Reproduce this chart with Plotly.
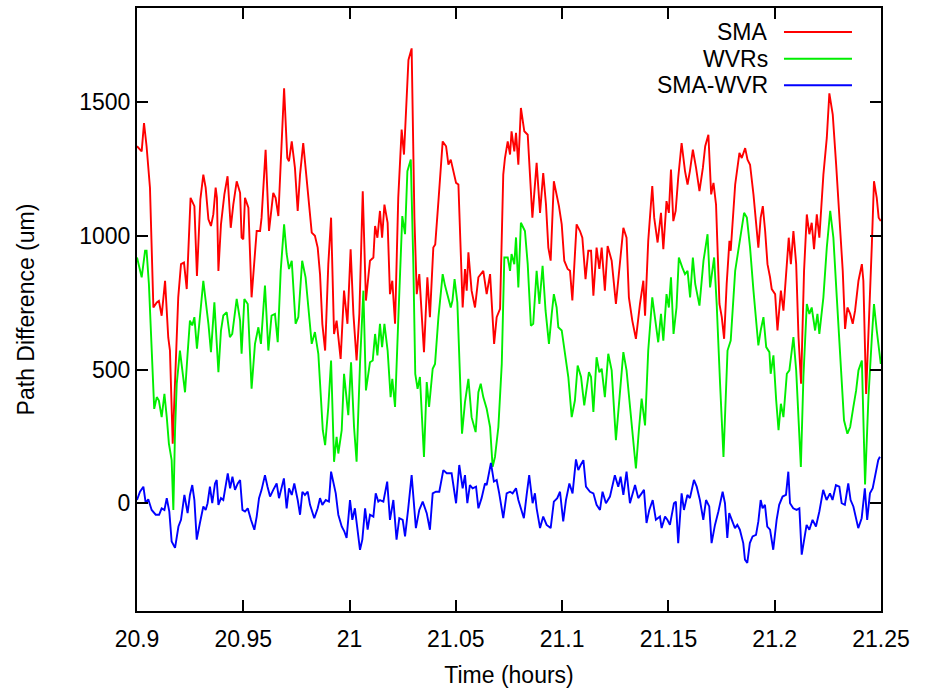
import plotly.graph_objects as go

# ---- data ----
sma_t = [20.9000, 20.9022, 20.9033, 20.9045, 20.9061, 20.9077, 20.9093, 20.9103, 20.9116, 20.9132,
         20.9147, 20.9155, 20.9168, 20.9182, 20.9194, 20.9207, 20.9221, 20.9234, 20.9252, 20.9270,
         20.9282, 20.9298, 20.9312, 20.9323, 20.9336, 20.9348, 20.9359, 20.9370, 20.9376, 20.9383,
         20.9395, 20.9411, 20.9426, 20.9441, 20.9453, 20.9469, 20.9485, 20.9492, 20.9500, 20.9508,
         20.9524, 20.9539, 20.9550, 20.9563, 20.9579, 20.9586, 20.9605, 20.9621, 20.9641, 20.9652,
         20.9665, 20.9676, 20.9692, 20.9707, 20.9715, 20.9728, 20.9743, 20.9756, 20.9767, 20.9782,
         20.9798, 20.9809, 20.9822, 20.9837, 20.9850, 20.9861, 20.9872,
         20.9885, 20.9900, 20.9913, 20.9927, 20.9939, 20.9958, 20.9974, 20.9990, 21.0005, 21.0018,
         21.0033, 21.0046, 21.0062, 21.0077, 21.0096, 21.0112, 21.0120, 21.0131, 21.0143, 21.0153,
         21.0164, 21.0179, 21.0190, 21.0201, 21.0214, 21.0229, 21.0245, 21.0256, 21.0277, 21.0292,
         21.0305, 21.0316, 21.0328, 21.0350, 21.0366, 21.0378, 21.0394, 21.0403, 21.0418, 21.0438,
         21.0454, 21.0465, 21.0476, 21.0488, 21.0501, 21.0512, 21.0520, 21.0532, 21.0543, 21.0551,
         21.0559, 21.0574, 21.0590, 21.0606, 21.0629, 21.0645, 21.0661, 21.0680, 21.0692, 21.0708,
         21.0723,
         21.0731, 21.0744, 21.0755, 21.0762, 21.0775, 21.0783, 21.0794, 21.0806, 21.0822, 21.0838,
         21.0849, 21.0860, 21.0880, 21.0896, 21.0911, 21.0924, 21.0935, 21.0946, 21.0961, 21.0974,
         21.0985, 21.0998, 21.1010, 21.1026, 21.1037, 21.1048, 21.1068, 21.1084, 21.1095, 21.1110,
         21.1123, 21.1136, 21.1147, 21.1162, 21.1175, 21.1186, 21.1201, 21.1214, 21.1233, 21.1253,
         21.1272, 21.1288, 21.1303, 21.1314, 21.1330, 21.1347, 21.1366, 21.1382, 21.1390, 21.1405,
         21.1424, 21.1433, 21.1449, 21.1465, 21.1476, 21.1491, 21.1502, 21.1512, 21.1523, 21.1534,
         21.1546, 21.1562, 21.1578, 21.1590, 21.1601,
         21.1615, 21.1630, 21.1646, 21.1662, 21.1673, 21.1688, 21.1701, 21.1712, 21.1724, 21.1740,
         21.1751, 21.1762, 21.1774, 21.1787, 21.1793, 21.1814, 21.1834, 21.1845, 21.1861, 21.1872,
         21.1884, 21.1900, 21.1912, 21.1923, 21.1934, 21.1944, 21.1955, 21.1966, 21.1978, 21.1986,
         21.2002, 21.2013, 21.2029, 21.2041, 21.2057, 21.2066, 21.2076, 21.2088, 21.2101, 21.2112,
         21.2124, 21.2138, 21.2151, 21.2163, 21.2174, 21.2185, 21.2198, 21.2210, 21.2229, 21.2245,
         21.2257, 21.2273, 21.2289, 21.2304, 21.2320, 21.2331, 21.2342, 21.2355, 21.2367, 21.2378,
         21.2394, 21.2410, 21.2417, 21.2430, 21.2441, 21.2457, 21.2467, 21.2480, 21.2489, 21.2499]
sma_v = [1335, 1316, 1422, 1335, 1180, 732, 751, 757, 701, 832,
         620, 571, 223, 521, 770, 894, 900, 801, 1142, 1111,
         850, 1136, 1229, 1180, 1062, 1037, 1080, 1180, 1142, 869,
         1043, 1155, 1223, 1030, 1117, 1204, 1161, 993, 987, 1142,
         1105, 770, 894, 1018, 1018, 1068, 1322, 1018, 1161, 1142,
         1074, 1266, 1552, 1291, 1279, 1353, 1254, 1093, 1229, 1347,
         1204, 1117, 1012, 1000, 956, 857, 670,
         571, 894, 1068, 633, 683, 540, 795, 671, 950, 708,
         534, 708, 1167, 758, 907, 919, 1037, 993, 1093, 993,
         1117, 1049, 782, 832, 671, 1142, 1397, 1304, 1658, 1701,
         1068, 782, 857, 565, 845, 696, 956, 968, 1130, 1353,
         1335, 1266, 1285, 1242, 1198, 1192, 993, 732, 876, 795,
         938, 795, 732, 845, 869, 782, 857, 596, 696, 727,
         1229,
         1291, 1353, 1304, 1391, 1316, 1385, 1266, 1478, 1391, 1378,
         1217, 1068, 1273, 1086, 1235, 1117, 956, 907, 1204, 1155,
         1111, 1043, 907, 876, 869, 758, 1043, 1018, 993, 838,
         944, 944, 776, 956, 876, 956, 795, 962, 907, 745,
         907, 1030, 993, 770, 683, 615, 745, 832, 701, 981,
         1186, 1068, 975, 1086, 950, 1130, 1086, 1248, 1055, 1093,
         1217, 1347, 1242, 1192, 1242,
         1322, 1254, 1167, 1254, 1335, 1378, 1155, 1198, 1117, 745,
         696, 615, 820, 981, 944, 1192, 1310, 1291, 1328, 1285,
         1266, 1155, 1055, 956, 1068, 1111, 1018, 894, 845, 801,
         782, 646, 795, 720, 894, 993, 894, 1018, 894, 621,
         447, 869, 1080, 1006, 1049, 950, 1080, 993, 1229, 1366,
         1533, 1453, 1266, 1093, 869, 652, 732, 708, 671, 720,
         832, 894, 832, 409, 621, 968, 1204, 1142, 1068, 1055]

wvr_t = [20.9000, 20.9022, 20.9038, 20.9045, 20.9056, 20.9069, 20.9081, 20.9093, 20.9103, 20.9116,
         20.9129, 20.9140, 20.9150, 20.9163, 20.9171, 20.9179, 20.9187, 20.9202, 20.9215, 20.9226,
         20.9238, 20.9249, 20.9260, 20.9270, 20.9282, 20.9296, 20.9312, 20.9323, 20.9336, 20.9348,
         20.9364, 20.9383, 20.9395, 20.9406, 20.9422, 20.9437, 20.9448, 20.9469, 20.9485, 20.9492,
         20.9505, 20.9521, 20.9539, 20.9555, 20.9571, 20.9583, 20.9602, 20.9618, 20.9633, 20.9649,
         20.9662, 20.9676, 20.9692, 20.9704, 20.9715, 20.9728, 20.9746, 20.9759, 20.9777, 20.9793,
         20.9809, 20.9822, 20.9837, 20.9853, 20.9865,
         20.9874, 20.9885, 20.9900, 20.9913, 20.9927, 20.9939, 20.9947, 20.9963, 20.9974, 20.9994,
         21.0007, 21.0021, 21.0033, 21.0049, 21.0065, 21.0077, 21.0096, 21.0109, 21.0120, 21.0131,
         21.0143, 21.0153, 21.0164, 21.0179, 21.0193, 21.0201, 21.0214, 21.0229, 21.0248, 21.0261,
         21.0272, 21.0288, 21.0300, 21.0309, 21.0320, 21.0331, 21.0350, 21.0363, 21.0374, 21.0391,
         21.0402, 21.0418, 21.0438, 21.0449, 21.0465, 21.0476, 21.0484, 21.0494, 21.0507, 21.0516,
         21.0529, 21.0543, 21.0559, 21.0574, 21.0593, 21.0606, 21.0617, 21.0629, 21.0645, 21.0661,
         21.0673, 21.0684, 21.0700, 21.0716, 21.0728,
         21.0744, 21.0755, 21.0762, 21.0775, 21.0783, 21.0794, 21.0806, 21.0825, 21.0838, 21.0853,
         21.0864, 21.0880, 21.0893, 21.0908, 21.0922, 21.0938, 21.0951, 21.0961, 21.0974, 21.0982,
         21.0998, 21.1013, 21.1029, 21.1045, 21.1060, 21.1073, 21.1089, 21.1104, 21.1115, 21.1126,
         21.1136, 21.1147, 21.1162, 21.1175, 21.1186, 21.1201, 21.1217, 21.1233, 21.1253, 21.1272,
         21.1288, 21.1303, 21.1319, 21.1335, 21.1347, 21.1361, 21.1374, 21.1390, 21.1405, 21.1424,
         21.1437, 21.1452, 21.1465, 21.1476, 21.1491, 21.1502, 21.1512, 21.1524, 21.1538, 21.1549,
         21.1565, 21.1578, 21.1590,
         21.1602, 21.1615, 21.1626, 21.1646, 21.1665, 21.1684, 21.1696, 21.1715, 21.1727, 21.1743,
         21.1759, 21.1778, 21.1793, 21.1814, 21.1837, 21.1856, 21.1869, 21.1884, 21.1900, 21.1912,
         21.1923, 21.1934, 21.1947, 21.1960, 21.1975, 21.1981, 21.1994, 21.2007, 21.2018, 21.2029,
         21.2041, 21.2057, 21.2069, 21.2088, 21.2101, 21.2123, 21.2135, 21.2151, 21.2163, 21.2174,
         21.2190, 21.2201, 21.2210, 21.2229, 21.2245, 21.2261, 21.2276, 21.2292, 21.2308, 21.2326,
         21.2342, 21.2355, 21.2370, 21.2383, 21.2394, 21.2410, 21.2425, 21.2441, 21.2457, 21.2467,
         21.2480, 21.2493, 21.2499]
wvr_v = [919, 845, 944, 944, 820, 584, 353, 397, 384, 322,
         409, 322, 223, 161, -25, 273, 447, 571, 484, 415,
         559, 683, 665, 696, 578, 708, 832, 758, 671, 565,
         751, 490, 646, 702, 714, 621, 633, 764, 683, 559,
         764, 745, 428, 596, 658, 596, 814, 571, 702, 708,
         602, 869, 1043, 932, 876, 907, 671, 696, 907, 845,
         696, 596, 640, 559, 397,
         273, 217, 360, 534, 155, 248, 186, 273, 484, 329,
         527, 285, 155, 521, 795, 422, 527, 534, 633, 553,
         671, 584, 671, 571, 397, 465, 360, 683, 1074, 1006,
         1242, 1285, 894, 484, 428, 472, 173, 453, 360, 503,
         521, 696, 857, 814, 770, 732, 758, 838, 751, 559,
         260, 378, 465, 322, 266, 415, 447, 397, 353, 285,
         136, 173, 285, 521, 919,
         919, 869, 932, 894, 994, 807, 1049, 1018, 894, 664,
         671, 869, 745, 888, 720, 596, 708, 782, 732, 658,
         646, 559, 472, 322, 384, 515, 472, 366, 434, 490,
         472, 341, 546, 490, 503, 397, 559, 497, 236, 422,
         565, 497, 360, 236, 130, 273, 391, 291, 571, 770,
         683, 602, 708, 608, 782, 732, 845, 633, 732, 919,
         882, 857, 869,
         770, 919, 820, 739, 907, 1006, 807, 919, 745, 447,
         173, 571, 608, 869, 993, 1086, 1068, 956, 795, 696,
         590, 646, 696, 584, 565, 484, 553, 384, 273, 372,
         322, 484, 497, 621, 497, 136, 472, 745, 708, 732,
         646, 708, 633, 770, 956, 1093, 993, 770, 546, 310,
         260, 285, 360, 422, 497, 534, 70, 397, 621, 745,
         646, 546, 521]

diff_t = [20.9000, 20.9014, 20.9030, 20.9041, 20.9053, 20.9069, 20.9088, 20.9104, 20.9116, 20.9129,
          20.9140, 20.9152, 20.9163, 20.9179, 20.9195, 20.9207, 20.9223, 20.9238, 20.9249, 20.9260,
          20.9270, 20.9281, 20.9296, 20.9312, 20.9323, 20.9332, 20.9343, 20.9354, 20.9367, 20.9375,
          20.9383, 20.9395, 20.9406, 20.9417, 20.9427, 20.9438, 20.9449, 20.9461, 20.9474, 20.9485,
          20.9496, 20.9508, 20.9521, 20.9536, 20.9552, 20.9563, 20.9574, 20.9586, 20.9602, 20.9614,
          20.9626, 20.9641, 20.9657, 20.9668, 20.9681, 20.9691, 20.9704, 20.9715, 20.9728, 20.9740,
          20.9756, 20.9767, 20.9778, 20.9790, 20.9803, 20.9814, 20.9834, 20.9850, 20.9861, 20.9872,
          20.9888, 20.9903, 20.9913, 20.9924, 20.9935, 20.9947, 20.9963, 20.9975, 20.9986, 21.0002,
          21.0013, 21.0025, 21.0038, 21.0049, 21.0060, 21.0073, 21.0085, 21.0096, 21.0112, 21.0123,
          21.0135,
          21.0143, 21.0159, 21.0177, 21.0190, 21.0206, 21.0221, 21.0234, 21.0250, 21.0261, 21.0276,
          21.0292, 21.0312, 21.0328, 21.0344, 21.0363, 21.0378, 21.0391, 21.0406, 21.0422, 21.0441,
          21.0457, 21.0480, 21.0501, 21.0516, 21.0532, 21.0543, 21.0554, 21.0566, 21.0579, 21.0595,
          21.0606, 21.0621, 21.0637, 21.0645, 21.0665, 21.0679, 21.0692, 21.0704, 21.0723, 21.0739,
          21.0755, 21.0767, 21.0783, 21.0794, 21.0805, 21.0820, 21.0833, 21.0845, 21.0861, 21.0872,
          21.0880, 21.0896, 21.0911, 21.0927, 21.0946, 21.0961, 21.0977, 21.0990, 21.1005, 21.1018,
          21.1034, 21.1049, 21.1065, 21.1076, 21.1087, 21.1100, 21.1112, 21.1131, 21.1147, 21.1162,
          21.1178, 21.1190, 21.1206, 21.1225, 21.1248, 21.1264, 21.1275, 21.1288, 21.1303,
          21.1319, 21.1343, 21.1358, 21.1374, 21.1385, 21.1397, 21.1410, 21.1426, 21.1441, 21.1460,
          21.1468, 21.1484, 21.1495, 21.1507, 21.1526, 21.1535, 21.1546, 21.1562, 21.1573, 21.1589,
          21.1601, 21.1620, 21.1633, 21.1648, 21.1664, 21.1677, 21.1692, 21.1703, 21.1719, 21.1735,
          21.1755, 21.1766, 21.1777, 21.1786, 21.1797, 21.1813, 21.1824, 21.1836, 21.1852, 21.1860,
          21.1871, 21.1883, 21.1896, 21.1912, 21.1923, 21.1934, 21.1943, 21.1954, 21.1965, 21.1978,
          21.1993, 21.2009, 21.2021, 21.2037, 21.2053, 21.2064, 21.2072, 21.2087, 21.2103, 21.2116,
          21.2127, 21.2138, 21.2150, 21.2163, 21.2178, 21.2194, 21.2210, 21.2228, 21.2244, 21.2260,
          21.2272, 21.2288, 21.2304, 21.2315, 21.2330, 21.2346, 21.2357, 21.2370, 21.2393, 21.2409,
          21.2424, 21.2435, 21.2448, 21.2461, 21.2476, 21.2487, 21.2495]
diff_v = [12, 43, 62, 0, 15, -25, -43, -43, -19, -25,
          19, -31, -143, -167, -87, -62, 31, -37, 31, 68,
          12, -136, -74, -12, -25, 0, 62, 0, 74, 87,
          -6, 19, 12, 62, 112, 56, 99, 50, 74, 87,
          -25, -31, -19, -62, -99, -50, 19, 50, 105, 62,
          25, 50, 74, 19, 62, 93, -19, 56, 31, 74,
          12, -43, 43, 31, 43, -6, -56, -19, 19, -6,
          12, 6, 118, 74, 37, -43, -87, -105, -130, 12,
          -62, -19, -99, -174, -136, -19, -99, -43, -50, 37,
          6,
          12, 6, 81, -62, 12, -136, -56, -62, -124, -19,
          105, -93, -25, 6, -37, -99, 37, 43, 43, 124,
          112, 112, 0, 143, 56, 105, 0, 68, 56, 62,
          -19, 19, 74, 68, 151, 81, 87, 37, -56, 37,
          43, 37, 56, 12, -19, -56, 31, 105, 0, 37,
          -19, -93, -50, -81, -93, 6, 19, 43, -68, 12,
          74, 37, 164, 124, 143, 161, 62, 43, 37, -6,
          -25, 43, 0, 25, 105, 62, 99, 31, 118,
          0, 68, 19, 37, 50, -74, -25, 12, -62, -50,
          -93, -50, -62, -81, 0, 6, -149, 37, -25, 31,
          19, 87, 62, 12, -62, 12, -12, -149, -81, -31,
          43, 0, -130, -37, -62, -93, -81, -99, -149, -211,
          -223, -149, -124, -118, -68, 12, -19, -6, -87, -99,
          -174, -62, -6, 25, 31, 118, 0, -19, -25, -19,
          -192, -130, -81, -99, -62, -87, -31, 50, 12, 37,
          12, 68, 62, 0, -6, 74, 12, -12, -93, -56,
          56, -62, 37, 56, 124, 161, 174]

series_names = ["SMA", "WVRs", "SMA-WVR"]
series_colors = ["#ff0000", "#00ee00", "#0000ff"]
x_ticks = [20.9, 20.95, 21.0, 21.05, 21.1, 21.15, 21.2, 21.25]
x_tick_labels = ["20.9", "20.95", "21", "21.05", "21.1", "21.15", "21.2", "21.25"]
y_ticks = [0, 500, 1000, 1500]
y_tick_labels = ["0", "500", "1000", "1500"]

FONT = "Liberation Sans, Arial, Helvetica, sans-serif"

fig = go.Figure()
for (xs, ys), name, col in zip([(sma_t, sma_v), (wvr_t, wvr_v), (diff_t, diff_v)],
                               series_names, series_colors):
    fig.add_trace(go.Scatter(x=xs, y=ys, mode="lines", name=name,
                             line=dict(color=col, width=1.9), showlegend=False))

# gnuplot-style legend: text right-aligned, sample line on the right
leg_y = [0.960, 0.916, 0.872]
shapes = []
annotations = []
for name, col, yy in zip(series_names, series_colors, leg_y):
    annotations.append(dict(xref="paper", yref="paper", x=0.851, y=yy, text=name,
                            showarrow=False, xanchor="right", yanchor="middle",
                            font=dict(family=FONT, size=23, color="#000")))
    shapes.append(dict(type="line", xref="paper", yref="paper", x0=0.8696, x1=0.961,
                       y0=yy, y1=yy, line=dict(color=col, width=2)))

axis_common = dict(showline=True, linecolor="black", linewidth=2, mirror="ticks",
                   ticks="inside", ticklen=11, tickwidth=1.5, tickcolor="black",
                   showgrid=False, zeroline=False,
                   tickfont=dict(family=FONT, size=23, color="#000"))

fig.update_layout(
    width=926, height=690,
    margin=dict(l=137, r=45, t=6, b=78),
    paper_bgcolor="white", plot_bgcolor="white",
    font=dict(family=FONT, size=23, color="#000"),
    xaxis=dict(range=[20.9, 21.25], tickvals=x_ticks, ticktext=x_tick_labels,
               ticklabelstandoff=6,
               title=dict(text="Time (hours)", font=dict(family=FONT, size=23), standoff=16),
               **axis_common),
    yaxis=dict(range=[-403, 1852], tickvals=y_ticks, ticktext=y_tick_labels,
               title=dict(text="Path Difference (um)", font=dict(family=FONT, size=23), standoff=38),
               **axis_common),
    shapes=shapes, annotations=annotations,
)

fig.write_html("out.html")
